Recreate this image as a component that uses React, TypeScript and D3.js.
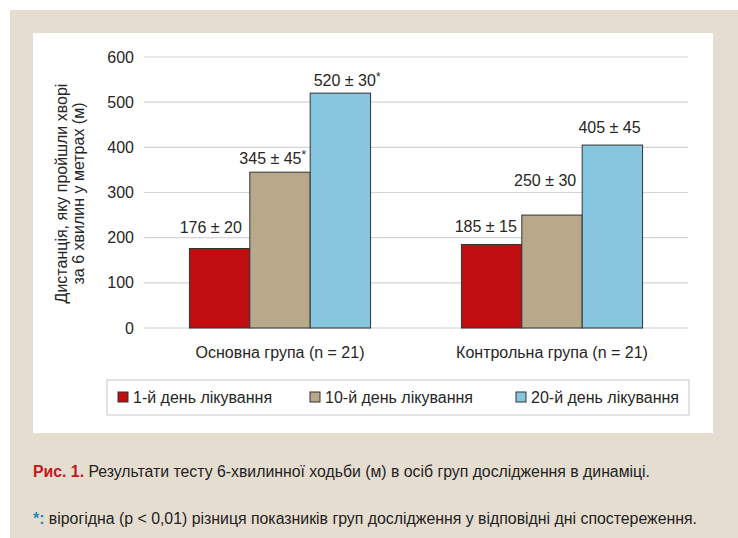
import React from "react";
import * as d3 from "d3";

const groups = ["Основна група (n = 21)", "Контрольна група (n = 21)"];
const seriesNames = ["1-й день лікування", "10-й день лікування", "20-й день лікування"];
const seriesColors = ["#c00d0f", "#b9a98b", "#88c5df"];
const values = [
  [176, 345, 520],
  [185, 250, 405],
];
const valueLabels = [
  ["176 ± 20", "345 ± 45", "520 ± 30"],
  ["185 ± 15", "250 ± 30", "405 ± 45"],
];
const starred = [
  [false, true, true],
  [false, false, false],
];
const yTicks = [0, 100, 200, 300, 400, 500, 600];

const W = 738;
const H = 538;
const plot = { left: 144, right: 688, top: 57, bottom: 328 };
const font = "'Liberation Sans', Arial, sans-serif";
const textColor = "#262626";
// hand-placed label nudges (dx from bar right edge, dy from bar top), as in the original
const labelNudge = [
  [[-8, -16], [-4, -8], [10, -7]],
  [[-5, -12], [-6, -29], [-2, -12]],
];

export default function App() {
  const x0 = d3.scaleBand().domain(groups).range([plot.left, plot.right]);
  const groupInner = x0.bandwidth() * 0.666;
  const x1 = d3
    .scaleBand()
    .domain(seriesNames)
    .range([(x0.bandwidth() - groupInner) / 2, (x0.bandwidth() + groupInner) / 2]);
  const y = d3.scaleLinear().domain([0, 600]).range([plot.bottom, plot.top]);

  const legendX = [118, 310, 516];

  return (
    <svg width={W} height={H} style={{ position: "absolute", left: 0, top: 0 }}>
      <rect x={10} y={10} width={W - 10} height={H - 10} fill="#e6ddd1" />
      <rect x={33} y={33} width={680} height={400} fill="#ffffff" />

      {yTicks.map((t) => (
        <g key={t}>
          <line x1={plot.left} x2={plot.right} y1={y(t)} y2={y(t)} stroke="#d4d4d4" strokeWidth={1.2} />
          <text x={134} y={y(t)} dy="0.35em" textAnchor="end" fontFamily={font} fontSize={16} fill={textColor}>
            {t}
          </text>
        </g>
      ))}

      {groups.map((g, gi) => (
        <g key={g} transform={`translate(${x0(g)},0)`}>
          {seriesNames.map((s, si) => {
            const v = values[gi][si];
            const bx = x1(s)!;
            const [ndx, ndy] = labelNudge[gi][si];
            return (
              <g key={s}>
                <rect
                  x={bx}
                  y={y(v)}
                  width={x1.bandwidth()}
                  height={y(0) - y(v)}
                  fill={seriesColors[si]}
                  stroke="#333"
                  strokeWidth={1}
                />
                <text
                  x={bx + x1.bandwidth() + ndx}
                  y={y(v) + ndy}
                  textAnchor="end"
                  fontFamily={font}
                  fontSize={16}
                  fill={textColor}
                >
                  {valueLabels[gi][si]}
                  {starred[gi][si] ? (
                    <tspan fontSize={12} dy={-5}>
                      *
                    </tspan>
                  ) : null}
                </text>
              </g>
            );
          })}
          <text
            x={x0.bandwidth() / 2}
            y={358}
            textAnchor="middle"
            fontFamily={font}
            fontSize={16}
            fill={textColor}
          >
            {g}
          </text>
        </g>
      ))}

      <text
        transform={`translate(67,${(plot.top + plot.bottom) / 2 + 1}) rotate(-90)`}
        textAnchor="middle"
        fontFamily={font}
        fontSize={16}
        fill={textColor}
      >
        <tspan x={0} dy={0}>Дистанція, яку пройшли хворі</tspan>
        <tspan x={0} dy={17}>за 6 хвилин у метрах (м)</tspan>
      </text>

      <rect x={107} y={380} width={582} height={35} fill="#fff" stroke="#d0d0d0" strokeWidth={1.2} />
      {seriesNames.map((s, i) => (
        <g key={s}>
          <rect x={legendX[i]} y={392} width={10} height={10} fill={seriesColors[i]} stroke="#333" strokeWidth={1} />
          <text x={legendX[i] + 15} y={397} dy="0.35em" fontFamily={font} fontSize={16} fill={textColor}>
            {s}
          </text>
        </g>
      ))}

      <text x={33} y={477} fontFamily={font} fontSize={16} fill="#222" textLength={617} lengthAdjust="spacingAndGlyphs">
        <tspan fill="#c4161c" fontWeight="bold">Рис. 1.</tspan>
        <tspan> Результати тесту 6-хвилинної ходьби (м) в осіб груп дослідження в динаміці.</tspan>
      </text>
      <text x={33} y={524} fontFamily={font} fontSize={16} fill="#222" textLength={664} lengthAdjust="spacingAndGlyphs">
        <tspan fill="#1b8db5" fontWeight="bold">*:</tspan>
        <tspan> вірогідна (p &lt; 0,01) різниця показників груп дослідження у відповідні дні спостереження.</tspan>
      </text>
    </svg>
  );
}
